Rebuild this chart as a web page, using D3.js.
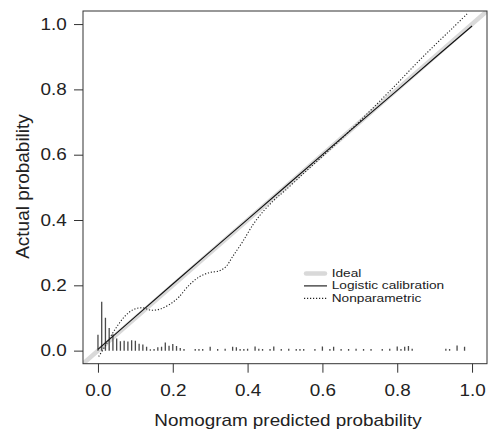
<!DOCTYPE html>
<html>
<head>
<meta charset="utf-8">
<script src="https://cdn.jsdelivr.net/npm/d3@7"></script>
<style>
  html, body { margin: 0; padding: 0; background: #fff; }
  svg { display: block; }
  text { font-family: "Liberation Sans", Arial, Helvetica, sans-serif; fill: #222; }
</style>
</head>
<body>
<div id="chart"></div>
<script>
// calibration plot: nomogram predicted vs actual

const xTicks = [0, 0.2, 0.4, 0.6, 0.8, 1.0];
const yTicks = [0, 0.2, 0.4, 0.6, 0.8, 1.0];

// ideal line (abline 0,1)
const idealX = [-0.04, 1.04];
const idealY = [-0.04, 1.04];

// logistic calibration
const logX = [0, 0.1, 0.2, 0.3, 0.4, 0.5, 0.6, 0.7, 0.8, 0.9, 1.0];
const logY = [0.004, 0.104, 0.204, 0.303, 0.402, 0.501, 0.600, 0.699, 0.797, 0.896, 0.994];

// nonparametric (loess)
const npX = [0.002, 0.021, 0.039, 0.057, 0.075, 0.097, 0.12, 0.142, 0.168, 0.2, 0.217, 0.244,
             0.271, 0.298, 0.324, 0.342, 0.36, 0.387, 0.414, 0.437, 0.47, 0.5, 0.55, 0.6,
             0.65, 0.7, 0.75, 0.8, 0.85, 0.9, 0.95, 0.99];
const npY = [-0.018, 0.017, 0.053, 0.084, 0.109, 0.127, 0.131, 0.124, 0.128, 0.148, 0.165, 0.201,
             0.226, 0.239, 0.244, 0.257, 0.288, 0.334, 0.385, 0.42, 0.46, 0.49, 0.543, 0.595,
             0.648, 0.703, 0.76, 0.818, 0.878, 0.935, 0.99, 1.035];

// distribution of predicted risks (spikes)
const spikeX = [0.00, 0.01, 0.02, 0.03, 0.04, 0.05, 0.06, 0.07, 0.08, 0.09, 0.10, 0.11, 0.12, 0.13, 0.14,
                0.15, 0.16, 0.17, 0.18, 0.19, 0.20, 0.21, 0.22, 0.23,
                0.26, 0.27, 0.28, 0.30, 0.32, 0.34, 0.36, 0.37, 0.38, 0.39, 0.40,
                0.42, 0.43, 0.44, 0.46, 0.47, 0.49, 0.51, 0.53, 0.54, 0.55,
                0.58, 0.60, 0.62, 0.63, 0.65, 0.67, 0.69, 0.71, 0.73, 0.76, 0.78,
                0.80, 0.81, 0.82, 0.83, 0.84, 0.93, 0.94, 0.96, 0.98];
const spikeH = [0.049, 0.150, 0.101, 0.069, 0.050, 0.037, 0.029, 0.030, 0.028, 0.032, 0.030, 0.021, 0.019, 0.012, 0.004,
                0.005, 0.010, 0.012, 0.025, 0.015, 0.020, 0.014, 0.008, 0.005,
                0.005, 0.005, 0.005, 0.012, 0.005, 0.006, 0.012, 0.010, 0.005, 0.005, 0.006,
                0.013, 0.006, 0.005, 0.005, 0.013, 0.005, 0.006, 0.005, 0.005, 0.005,
                0.005, 0.013, 0.005, 0.012, 0.005, 0.005, 0.006, 0.005, 0.005, 0.005, 0.006,
                0.013, 0.005, 0.012, 0.014, 0.006, 0.006, 0.005, 0.016, 0.012];

const legendLabels = ["Ideal", "Logistic calibration", "Nonparametric"];

const W = 490, H = 432;
const SX = 1.18; // glyphs in the reference are wider than Arial

const box = { left: 83, right: 487, top: 11, bottom: 363.7 };

const svg = d3.select("#chart").append("svg")
  .attr("width", W)
  .attr("height", H);

const x = d3.scaleLinear().domain([-0.04, 1.04]).range([box.left, box.right]);
const y = d3.scaleLinear().domain([-0.04, 1.04]).range([box.bottom, box.top]);

svg.append("clipPath").attr("id", "plotclip")
  .append("rect")
  .attr("x", box.left).attr("y", box.top)
  .attr("width", box.right - box.left).attr("height", box.bottom - box.top);

const plot = svg.append("g").attr("clip-path", "url(#plotclip)");

// ideal
plot.append("line")
  .attr("x1", x(idealX[0])).attr("y1", y(idealY[0]))
  .attr("x2", x(idealX[1])).attr("y2", y(idealY[1]))
  .attr("stroke", "#d9d9d9")
  .attr("stroke-width", 4.5);

// spikes
plot.selectAll(".spike")
  .data(spikeX.map((v, i) => ({ x: v, h: spikeH[i] })))
  .enter().append("line")
  .attr("class", "spike")
  .attr("x1", d => x(d.x)).attr("x2", d => x(d.x))
  .attr("y1", y(0)).attr("y2", d => y(d.h))
  .attr("stroke", "#4a4a4a")
  .attr("stroke-width", 1.3);

const line = d3.line().x(d => x(d[0])).y(d => y(d[1]));

// logistic calibration
plot.append("path")
  .datum(logX.map((v, i) => [v, logY[i]]))
  .attr("d", line)
  .attr("fill", "none")
  .attr("stroke", "#111")
  .attr("stroke-width", 1.1);

// nonparametric
plot.append("path")
  .datum(npX.map((v, i) => [v, npY[i]]))
  .attr("d", line.curve(d3.curveCatmullRom.alpha(0.5)))
  .attr("fill", "none")
  .attr("stroke", "#222")
  .attr("stroke-width", 1.1)
  .attr("stroke-dasharray", "1.2,1.8");

// box
svg.append("rect")
  .attr("x", box.left).attr("y", box.top)
  .attr("width", box.right - box.left).attr("height", box.bottom - box.top)
  .attr("fill", "none")
  .attr("stroke", "#333")
  .attr("stroke-width", 1);

// axes
const fmt = d3.format(".1f");

const gx = svg.append("g")
  .attr("transform", `translate(0,${box.bottom})`)
  .call(d3.axisBottom(x).tickValues(xTicks).tickSize(9).tickPadding(11.6).tickFormat(fmt));
gx.select(".domain").remove();
gx.selectAll(".tick line").attr("stroke", "#333");
gx.selectAll(".tick text")
  .attr("font-size", 16)
  .attr("font-family", null)
  .attr("transform", `scale(${SX},1)`);

const gy = svg.append("g")
  .attr("transform", `translate(${box.left},0)`)
  .call(d3.axisLeft(y).tickValues(yTicks).tickSize(9).tickPadding(7.3).tickFormat(fmt));
gy.select(".domain").remove();
gy.selectAll(".tick line").attr("stroke", "#333");
gy.selectAll(".tick text")
  .attr("font-size", 16)
  .attr("font-family", null)
  .attr("x", -16.3 / SX)
  .attr("transform", `scale(${SX},1)`);

// axis titles
svg.append("g")
  .attr("transform", `translate(288,425.5)`)
  .append("text")
  .attr("text-anchor", "middle")
  .attr("transform", `scale(${SX},1)`)
  .style("font-size", "16px")
  .text("Nomogram predicted probability");

svg.append("text")
  .attr("transform", `translate(29.3,186.5) rotate(-90)`)
  .attr("text-anchor", "middle")
  .style("font-size", "19px")
  .text("Actual probability");

// legend
const legX1 = 304, legX2 = 327, legTextX = 331.7;
const legBase = [276.7, 289.2, 301.7];
const legStyles = [
  { stroke: "#d9d9d9", width: 4.5, dash: null, cap: "round" },
  { stroke: "#111", width: 1.1, dash: null, cap: "butt" },
  { stroke: "#222", width: 1.1, dash: "1.2,1.8", cap: "butt" }
];

const leg = svg.append("g");
legendLabels.forEach((lab, i) => {
  const st = legStyles[i];
  leg.append("line")
    .attr("x1", legX1 + (st.cap === "round" ? 2 : 0)).attr("x2", legX2 - (st.cap === "round" ? 2 : 0))
    .attr("y1", legBase[i] - 3.3).attr("y2", legBase[i] - 3.3)
    .attr("stroke", st.stroke)
    .attr("stroke-width", st.width)
    .attr("stroke-linecap", st.cap)
    .attr("stroke-dasharray", st.dash);
  leg.append("g")
    .attr("transform", `translate(${legTextX},${legBase[i]})`)
    .append("text")
    .attr("transform", `scale(${SX},1)`)
    .style("font-size", "11.6px")
    .text(lab);
});
</script>
</body>
</html>
